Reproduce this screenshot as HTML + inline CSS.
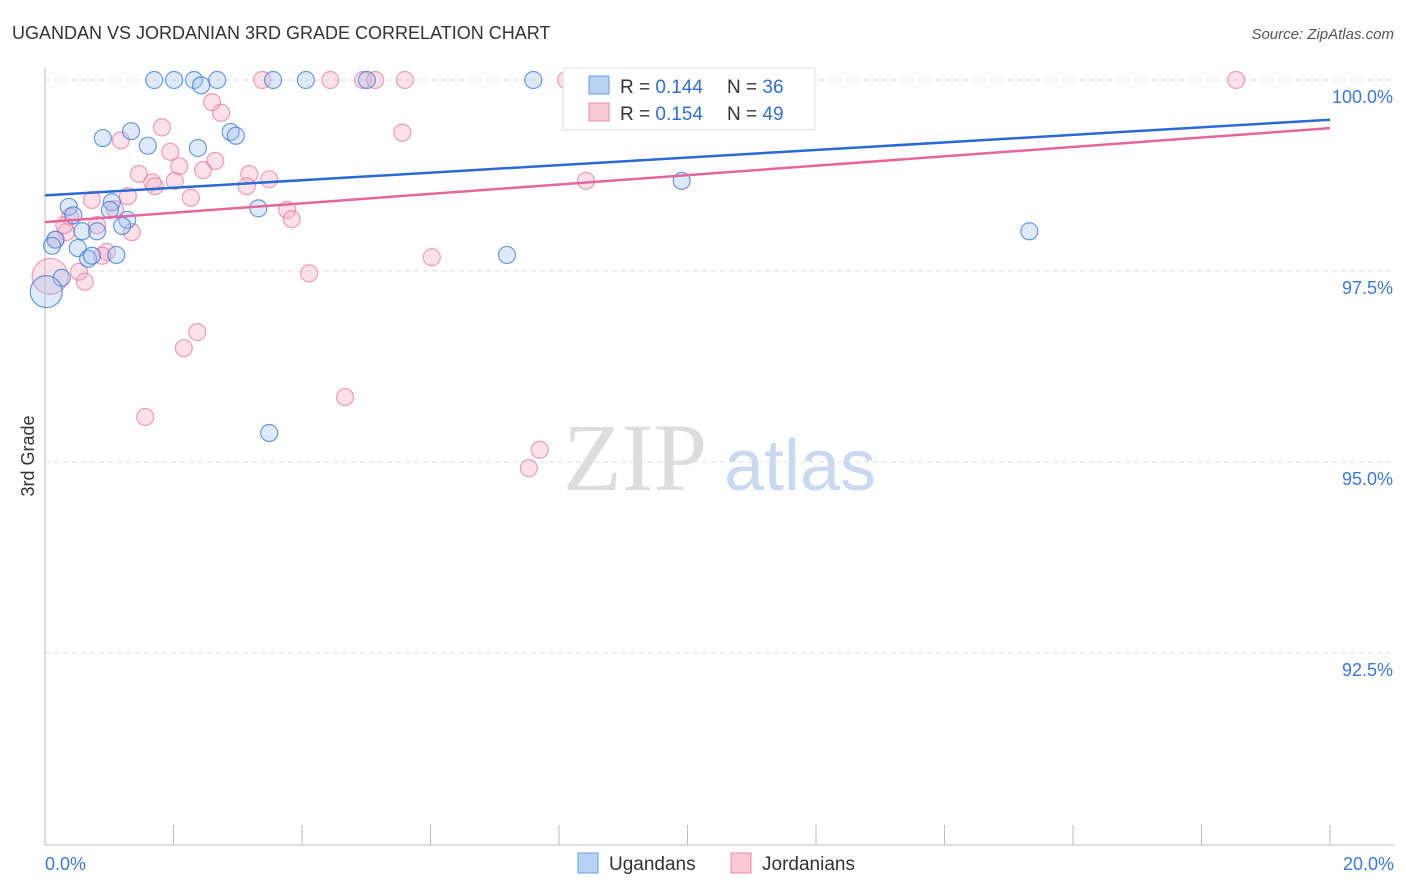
<!DOCTYPE html>
<html><head><meta charset="utf-8"><style>
body{margin:0;background:#fff;font-family:"Liberation Sans",sans-serif}
svg{display:block}
</style></head><body>
<svg id="c" width="1406" height="892" xmlns="http://www.w3.org/2000/svg">
<text x="12" y="39" font-size="18" fill="#333">UGANDAN VS JORDANIAN 3RD GRADE CORRELATION CHART</text>
<text x="1394" y="39" font-size="15" fill="#555" font-style="italic" text-anchor="end">Source: ZipAtlas.com</text>
<text x="34" y="456" font-size="18" fill="#333" text-anchor="middle" transform="rotate(-90 34 456)">3rd Grade</text>
<g><text x="635" y="490" font-size="96" fill="#ddd" font-family="Liberation Serif" text-anchor="middle">ZIP</text><text x="800" y="490" font-size="72" fill="#c9d9f0" text-anchor="middle">atlas</text></g>
<g id="grid"></g><g id="pts"></g><g id="lines"></g>
<g>
<rect x="563" y="68" width="252" height="62" fill="#fff" stroke="#ddd"/>
<rect x="589" y="76" width="20" height="18" fill="#b8d2f4" stroke="#6a9be0"/>
<text x="620" y="93" font-size="19" fill="#333">R = <tspan fill="#2f6fd1">0.144</tspan></text>
<text x="727" y="93" font-size="19" fill="#333">N = <tspan fill="#2f6fd1">36</tspan></text>
<rect x="589" y="103" width="20" height="18" fill="#f9c8d6" stroke="#e88aa8"/>
<text x="620" y="120" font-size="19" fill="#333">R = <tspan fill="#2f6fd1">0.154</tspan></text>
<text x="727" y="120" font-size="19" fill="#333">N = <tspan fill="#2f6fd1">49</tspan></text>
</g>
<g>
<rect x="578" y="853" width="20" height="20" fill="#b8d2f4" stroke="#6a9be0"/>
<text x="609" y="870" font-size="19" fill="#333">Ugandans</text>
<rect x="731" y="853" width="20" height="20" fill="#f9c8d6" stroke="#e88aa8"/>
<text x="762" y="870" font-size="19" fill="#333">Jordanians</text>
</g>
</svg>
<script>
const xTicks=[0,20];
const yTicks=[92.5,95,97.5,100];
const blueX=[1.70,2.01,2.32,2.43,2.68,3.55,4.06,5.01,7.60,0.90,1.34,1.60,2.38,2.89,2.97,0.37,0.44,1.04,1.01,1.28,1.20,0.58,0.81,0.51,0.16,0.11,0.67,0.73,1.11,0.26,0.02,3.32,3.49,7.19,9.91,15.32];
const blueY=[100,100,100,99.93,100,100,100,100,100,99.24,99.33,99.14,99.11,99.32,99.27,98.34,98.23,98.40,98.30,98.17,98.09,98.02,98.02,97.80,97.91,97.83,97.66,97.70,97.71,97.41,97.23,98.32,95.38,97.71,98.68,98.02];
const pinkX=[3.38,4.44,4.95,5.14,5.60,8.11,18.54,2.60,2.74,1.82,1.18,1.95,5.56,2.09,2.65,2.46,1.46,1.67,1.71,2.02,3.18,3.14,3.49,1.29,0.73,2.27,3.77,3.84,8.42,1.09,0.81,1.35,0.39,0.17,0.33,0.96,0.89,0.53,0.62,0.08,4.11,6.02,2.37,2.16,1.56,4.67,7.70,7.53,0.30];
const pinkY=[100,100,100,100,100,100,100,99.71,99.57,99.38,99.21,99.06,99.31,98.87,98.94,98.82,98.77,98.66,98.61,98.68,98.77,98.61,98.70,98.48,98.43,98.46,98.30,98.18,98.68,98.31,98.10,98.01,98.21,97.91,98.01,97.75,97.70,97.49,97.36,97.43,97.47,97.68,96.70,96.49,95.59,95.85,95.16,94.92,98.10];
const blueTrend=[98.49,99.48];
const pinkTrend=[98.14,99.37];
const X=v=>45+v/20*1285, Y=v=>80+(100-v)*76.4;
const NS='http://www.w3.org/2000/svg';
function mk(t,a,p){const e=document.createElementNS(NS,t);for(const k in a)e.setAttribute(k,a[k]);p.appendChild(e);return e;}
const g=document.getElementById('grid');
mk('line',{x1:45,y1:68,x2:45,y2:845,stroke:'#bbb'},g);
mk('line',{x1:45,y1:845,x2:1394,y2:845,stroke:'#bbb'},g);
yTicks.forEach(v=>{const l=mk('line',{x1:45,y1:Y(v),x2:1394,y2:Y(v),stroke:'#ddd','stroke-dasharray':'5,4'},g);


const t=mk('text',{x:1393,y:Y(v)+23,'font-size':18,fill:'#3b78d8','text-anchor':'end'},g);t.textContent=v.toFixed(1)+'%';

});
for(let k=0;k<=10;k++){const l=mk('line',{x1:X(k*2),y1:825,x2:X(k*2),y2:845,stroke:'#bbb'},g);

}
xTicks.forEach((v,i)=>{const t=mk('text',{x:i?1394:45,y:870,'font-size':18,fill:'#3b78d8','text-anchor':i?'end':'start'},g);t.textContent=v.toFixed(1)+'%';

});
const p=document.getElementById('pts');
pinkX.forEach((v,i)=>{const c=mk('circle',{cx:X(v),cy:Y(pinkY[i]),r:(i==39?18:8.5),fill:'rgba(246,170,195,0.35)',stroke:'rgba(232,120,155,0.7)','stroke-width':1.2},p);

});
blueX.forEach((v,i)=>{const c=mk('circle',{cx:X(v),cy:Y(blueY[i]),r:(i==30?16:8.5),fill:'rgba(160,195,240,0.35)',stroke:'rgba(60,120,215,0.75)','stroke-width':1.2},p);

});
const L=document.getElementById('lines');
const b=mk('line',{x1:X(0),y1:Y(blueTrend[0]),x2:X(20),y2:Y(blueTrend[1]),stroke:'#2a6ad3','stroke-width':2.5},L);


const q=mk('line',{x1:X(0),y1:Y(pinkTrend[0]),x2:X(20),y2:Y(pinkTrend[1]),stroke:'#e5669a','stroke-width':2.5},L);


</script>
</body></html>
